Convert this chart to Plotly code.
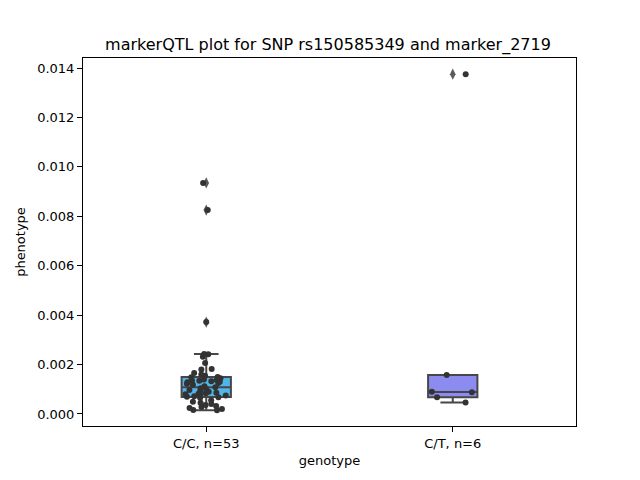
import plotly.graph_objects as go

categories = ["C/C, n=53", "C/T, n=6"]
cc_values = [0.00935, 0.00825, 0.00372,
             0.00243, 0.00242, 0.00232, 0.00206, 0.00182, 0.00180, 0.00166, 0.00160, 0.00155, 0.00150, 0.00149, 0.00145,
             0.00140, 0.00138, 0.00136, 0.00134, 0.00132, 0.00130, 0.00128, 0.00125, 0.00122, 0.00118, 0.00112, 0.00108,
             0.00104, 0.00100, 0.00097, 0.00093, 0.00090,
             0.00086, 0.00084, 0.00082, 0.00080, 0.00078, 0.00075, 0.00072, 0.00070, 0.00068, 0.00066,
             0.00056, 0.00050, 0.00045, 0.00040, 0.00036, 0.00032, 0.00028, 0.00024, 0.00020, 0.00016, 0.00015]
ct_values = [0.00046, 0.00068, 0.00088, 0.00090, 0.00158, 0.01375]
box_colors = ["#52b5ea", "#8c8cf0"]
y_ticks = [0.000, 0.002, 0.004, 0.006, 0.008, 0.010, 0.012, 0.014]
tick_text = ["0.000", "0.002", "0.004", "0.006", "0.008", "0.010", "0.012", "0.014"]

groups = [cc_values, ct_values]
edge = "#474747"

fig = go.Figure()
for cat, vals, col in zip(categories, groups, box_colors):
    fig.add_trace(go.Box(
        x=[cat] * len(vals), y=vals, name=cat,
        boxpoints="outliers", quartilemethod="exclusive",
        fillcolor=col, line=dict(color=edge, width=2),
        marker=dict(symbol="diamond-tall", color="#5a5a5a", size=8, line=dict(width=0)),
        width=0.2, whiskerwidth=0.5, showlegend=False, hoverinfo="skip",
    ))
for cat, vals in zip(categories, groups):
    fig.add_trace(go.Box(
        x=[cat] * len(vals), y=vals, name=cat,
        boxpoints="all", jitter=1.0, pointpos=0,
        fillcolor="rgba(0,0,0,0)", line=dict(color="rgba(0,0,0,0)", width=0),
        marker=dict(symbol="circle", color="#333333", size=6, line=dict(width=0)),
        width=0.2, whiskerwidth=0, showlegend=False, hoverinfo="skip",
    ))

axis_common = dict(showline=True, linecolor="black", linewidth=1, mirror=True,
                   ticks="outside", ticklen=5, tickcolor="black", showgrid=False, zeroline=False,
                   tickfont=dict(family="DejaVu Sans", size=13, color="black"))
fig.update_layout(
    width=640, height=480,
    paper_bgcolor="white", plot_bgcolor="white",
    margin=dict(l=72, r=72, t=50, b=62),
    boxmode="overlay",
    title=dict(text="markerQTL plot for SNP rs150585349 and marker_2719",
               x=0.5, xanchor="center", y=1 - 36 / 480, yanchor="middle",
               font=dict(family="DejaVu Sans", size=16, color="black")),
    xaxis=dict(range=[-0.5, 1.5], type="category", categoryorder="array", categoryarray=categories,
               title=dict(text="genotype", font=dict(family="DejaVu Sans", size=13, color="black"), standoff=6),
               **axis_common),
    yaxis=dict(range=[-0.000486, 0.014405], tickvals=y_ticks, ticktext=tick_text,
               title=dict(text="phenotype", font=dict(family="DejaVu Sans", size=13, color="black"), standoff=8),
               **axis_common),
    font=dict(family="DejaVu Sans"),
)
fig.write_html("out.html")
